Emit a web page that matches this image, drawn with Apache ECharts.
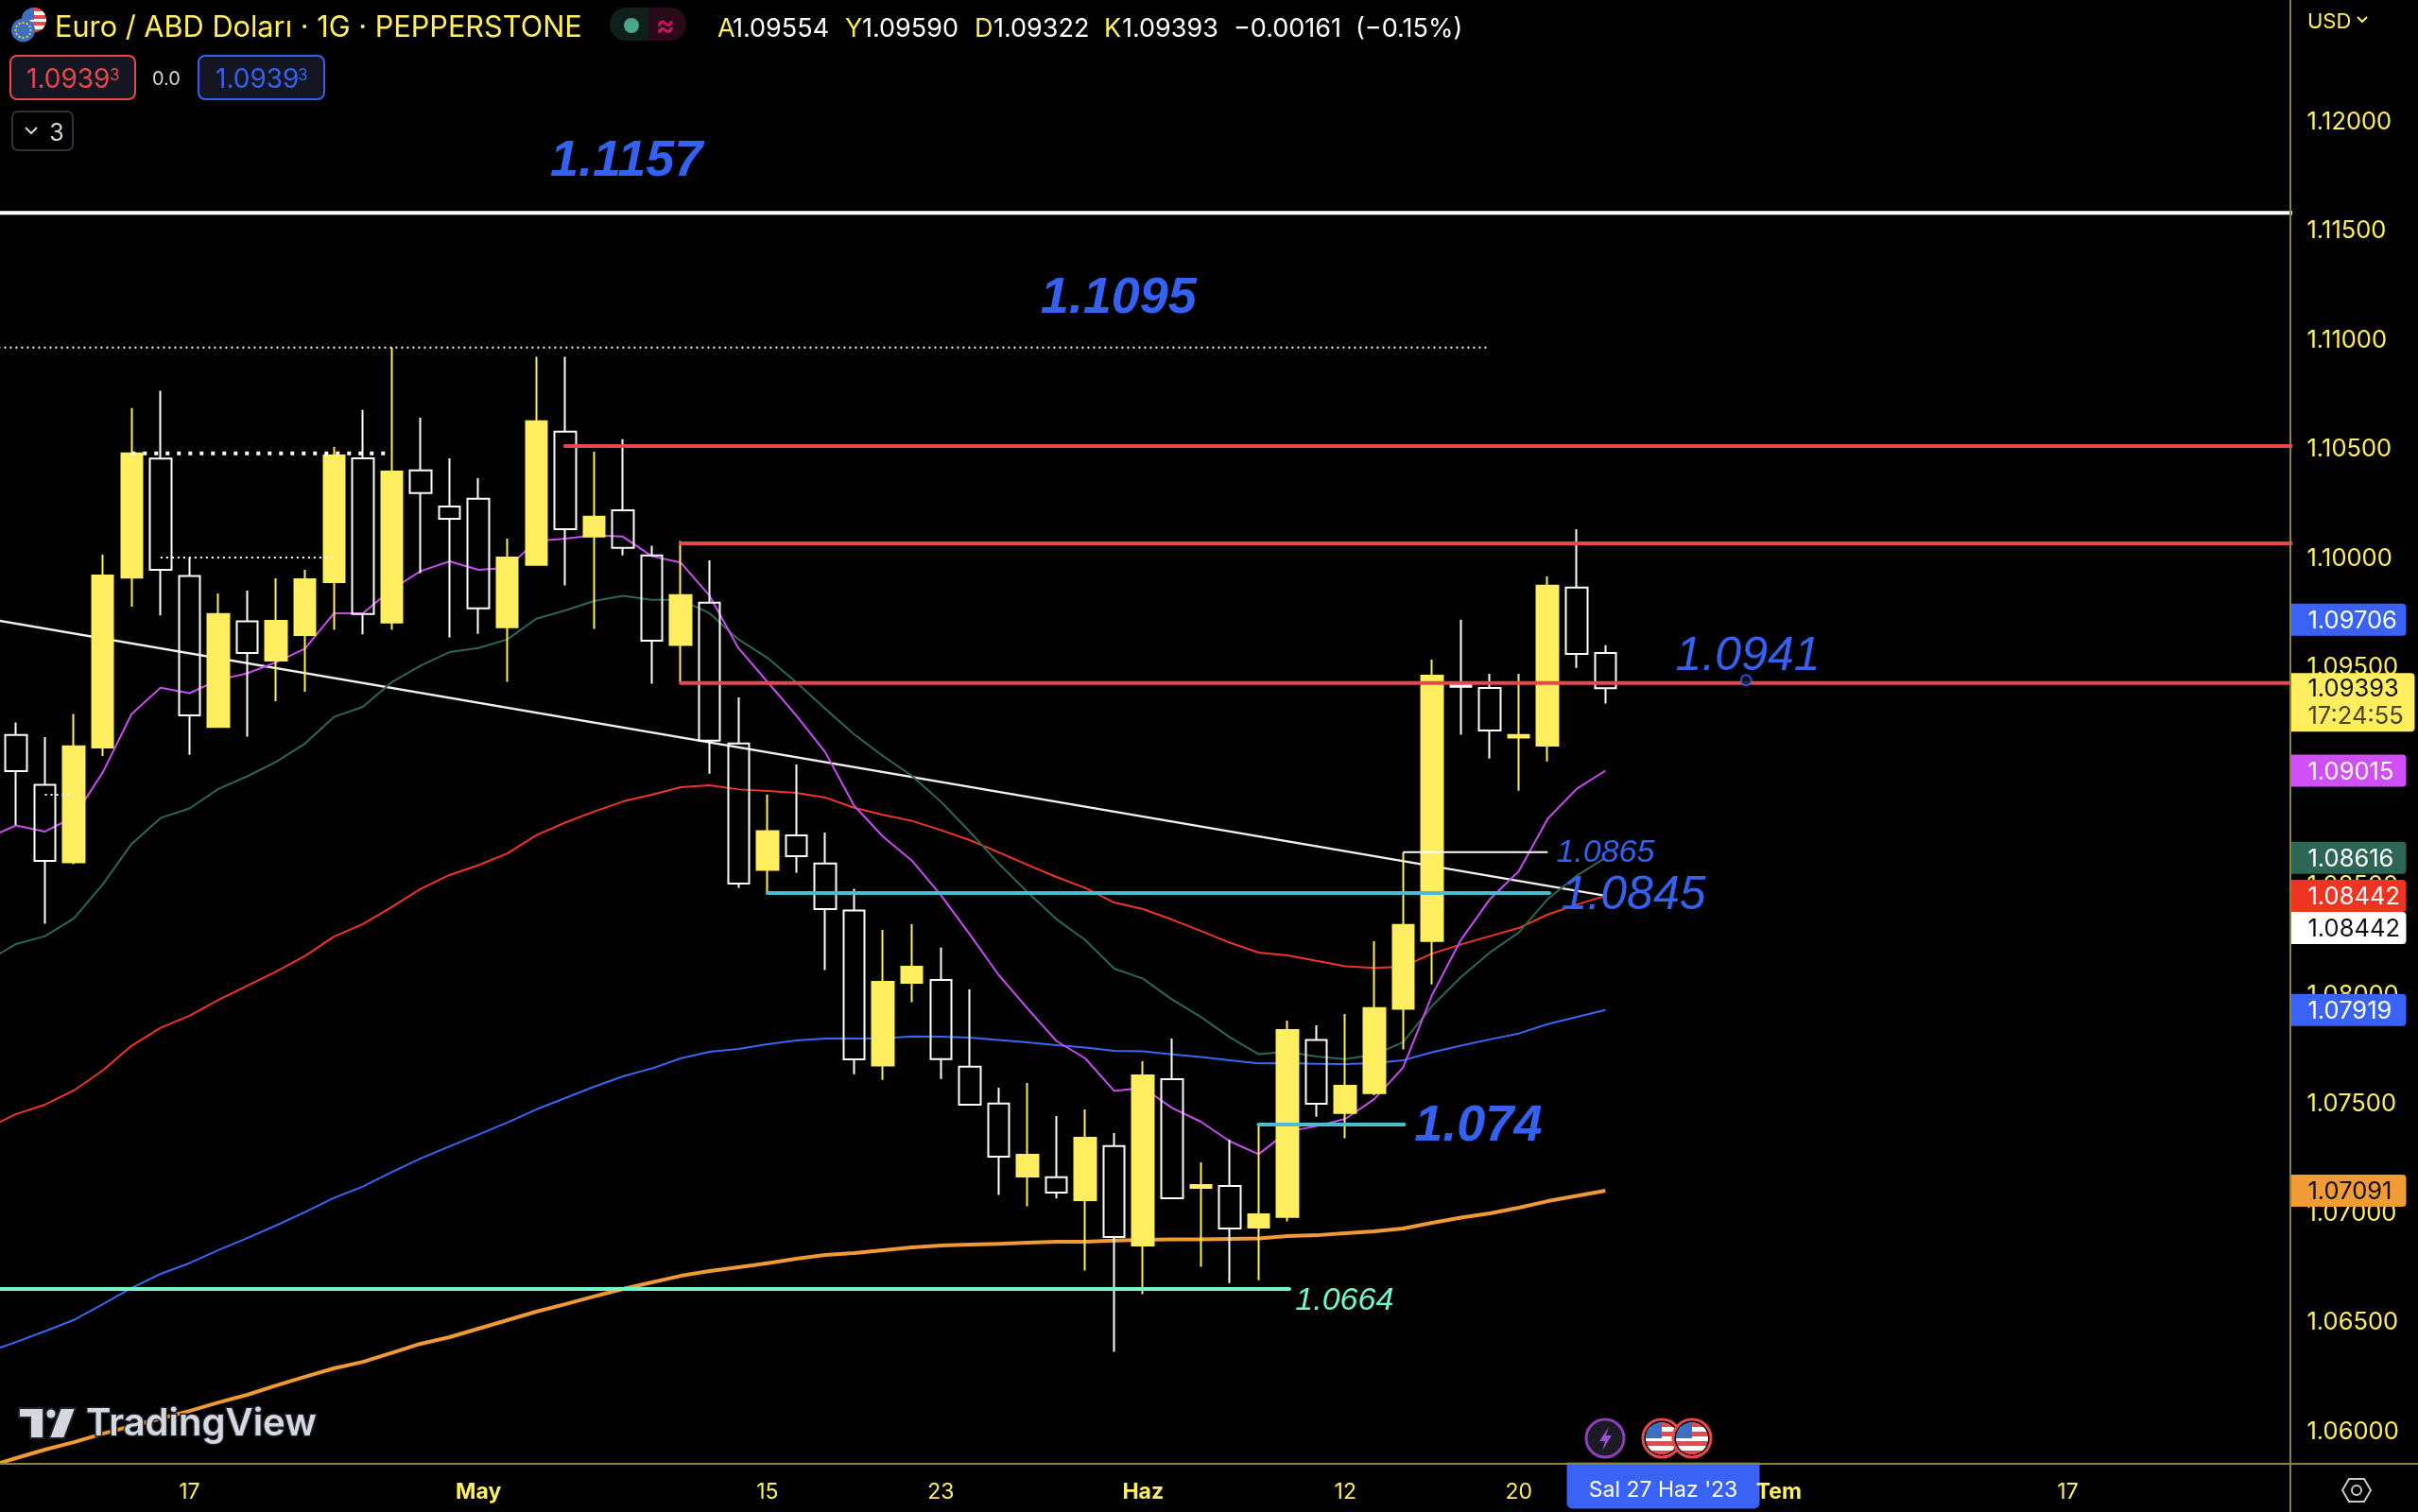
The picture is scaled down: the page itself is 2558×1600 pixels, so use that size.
<!DOCTYPE html>
<html><head><meta charset="utf-8">
<style>html,body{margin:0;padding:0;background:#000}#c{position:absolute;left:0;top:0;width:2558px;height:1600px}</style>
<script src="https://cdn.jsdelivr.net/npm/echarts@6/dist/echarts.min.js"></script>
</head><body><div id="c"></div>
<script>
// ---- values ----
const opens=[1.09178,1.08950,1.08595,1.09121,1.09899,1.10445,1.09907,1.09215,1.09699,1.09519,1.09636,1.09879,1.10446,1.09693,1.10390,1.10225,1.10261,1.09672,1.09958,1.10568,1.10087,1.10208,1.10001,1.09591,1.09784,1.09139,1.08561,1.08719,1.08590,1.08374,1.07665,1.08043,1.08056,1.07659,1.07490,1.07156,1.07153,1.07048,1.07295,1.06840,1.07602,1.07104,1.07113,1.06922,1.06971,1.07781,1.07447,1.07538,1.07924,1.08235,1.09407,1.09394,1.09166,1.09130,1.09854,1.09554];
const closes=[1.09013,1.08602,1.09126,1.09909,1.10468,1.09935,1.09268,1.09732,1.09554,1.09701,1.09892,1.10459,1.09732,1.10385,1.10287,1.10169,1.09758,1.09991,1.10615,1.10121,1.10178,1.10035,1.09610,1.09819,1.09152,1.08498,1.08738,1.08623,1.08381,1.07693,1.08048,1.08117,1.07694,1.07485,1.07247,1.07255,1.07082,1.07333,1.06879,1.07619,1.07056,1.07117,1.06918,1.06983,1.07827,1.07489,1.07571,1.07927,1.08308,1.09450,1.09399,1.09199,1.09178,1.09862,1.09550,1.09393];
const lows=[1.08766,1.08314,1.08586,1.09082,1.09766,1.09726,1.09087,1.09212,1.09171,1.09333,1.09377,1.09660,1.09639,1.09660,1.09920,1.09625,1.09642,1.09422,1.09953,1.09863,1.09664,1.10001,1.09413,1.09422,1.09001,1.08478,1.08455,1.08547,1.08102,1.07625,1.07599,1.07955,1.07603,1.07485,1.07071,1.07020,1.07055,1.06725,1.06353,1.06617,1.07056,1.06742,1.06668,1.06681,1.06950,1.07430,1.07331,1.07528,1.07738,1.08036,1.09179,1.09070,1.08923,1.09057,1.09486,1.09322];
const highs=[1.09236,1.09169,1.09275,1.10004,1.10676,1.10755,1.09991,1.09827,1.09840,1.09896,1.09935,1.10498,1.10667,1.10953,1.10632,1.10446,1.10355,1.10078,1.10911,1.10911,1.10476,1.10533,1.10045,1.10067,1.09978,1.09351,1.08906,1.09043,1.08732,1.08474,1.08286,1.08312,1.08204,1.08013,1.07563,1.07584,1.07433,1.07463,1.07355,1.07684,1.07788,1.07221,1.07325,1.07387,1.07870,1.07849,1.07900,1.08234,1.08641,1.09524,1.09706,1.09459,1.09459,1.09905,1.10121,1.09590];
// moving averages: first value is the bar just left of the visible window
const maPurple=[1.08706,1.08764,1.08736,1.08803,1.09007,1.09275,1.09395,1.09370,1.09430,1.09461,1.09511,1.09574,1.09736,1.09736,1.09845,1.09929,1.09974,1.09935,1.09944,1.10067,1.10078,1.10093,1.10087,1.09997,1.09968,1.09816,1.09576,1.09422,1.09268,1.09100,1.08855,1.08713,1.08603,1.08445,1.08266,1.08080,1.07926,1.07777,1.07697,1.07548,1.07563,1.07470,1.07407,1.07317,1.07258,1.07361,1.07387,1.07420,1.07510,1.07655,1.07987,1.08240,1.08426,1.08554,1.08794,1.08931,1.09015];
const maGreen=[1.08143,1.08221,1.08257,1.08338,1.08494,1.08680,1.08798,1.08842,1.08931,1.08989,1.09056,1.09139,1.09261,1.09307,1.09420,1.09496,1.09558,1.09577,1.09616,1.09711,1.09749,1.09792,1.09816,1.09797,1.09798,1.09736,1.09616,1.09532,1.09420,1.09299,1.09182,1.09082,1.08991,1.08873,1.08736,1.08590,1.08459,1.08335,1.08239,1.08108,1.08062,1.07967,1.07887,1.07794,1.07716,1.07727,1.07706,1.07694,1.07714,1.07771,1.07937,1.08069,1.08182,1.08273,1.08426,1.08533,1.08616];
const maRed=[1.07377,1.07442,1.07485,1.07550,1.07642,1.07755,1.07837,1.07892,1.07965,1.08030,1.08095,1.08166,1.08255,1.08312,1.08390,1.08473,1.08537,1.08582,1.08636,1.08719,1.08777,1.08827,1.08874,1.08905,1.08939,1.08948,1.08929,1.08922,1.08913,1.08892,1.08845,1.08813,1.08785,1.08743,1.08697,1.08641,1.08584,1.08528,1.08478,1.08411,1.08381,1.08333,1.08281,1.08227,1.08182,1.08169,1.08144,1.08119,1.08111,1.08117,1.08177,1.08219,1.08257,1.08294,1.08356,1.08401,1.08442];
const maBlue=[1.06351,1.06398,1.06447,1.06499,1.06571,1.06646,1.06710,1.06759,1.06819,1.06874,1.06932,1.06993,1.07058,1.07110,1.07176,1.07239,1.07294,1.07348,1.07403,1.07463,1.07515,1.07567,1.07615,1.07651,1.07697,1.07727,1.07740,1.07762,1.07779,1.07788,1.07788,1.07789,1.07798,1.07797,1.07792,1.07781,1.07771,1.07758,1.07747,1.07732,1.07729,1.07715,1.07703,1.07688,1.07674,1.07675,1.07672,1.07671,1.07675,1.07688,1.07725,1.07755,1.07784,1.07811,1.07854,1.07886,1.07919];
const maOrange=[1.05827,1.05866,1.05905,1.05939,1.05978,1.06013,1.06048,1.06082,1.06121,1.06156,1.06199,1.06239,1.06277,1.06307,1.06348,1.06390,1.06420,1.06459,1.06498,1.06537,1.06571,1.06607,1.06641,1.06671,1.06701,1.06723,1.06740,1.06759,1.06779,1.06797,1.06805,1.06818,1.06831,1.06840,1.06844,1.06848,1.06853,1.06857,1.06857,1.06863,1.06866,1.06868,1.06868,1.06870,1.06872,1.06883,1.06887,1.06896,1.06905,1.06918,1.06944,1.06968,1.06987,1.07013,1.07043,1.07067,1.07091];
// time axis (bar index -> label)
const dateTickBars=[6,16,26,32,39,46,52,57,61,71];
const dateTickLabels=['17','May','15','23','Haz','12','20',"Sal 27 Haz '23",'Tem','17'];
// price axis
const priceTicks=[1.06,1.065,1.07,1.075,1.08,1.085,1.09,1.095,1.10,1.105,1.11,1.115,1.12];
// drawn levels: [fromBar,toBar,price]
const trendLine=[[-1,1.09711],[55,1.08442]];
const lvlWhiteTop=[-1,79,1.1157];
const lvlDotTop=[-1,51,1.10953];
const lvlDotMid=[4,12.85,1.10468];
const lvlDotLow=[5,11,1.09991];
const lvlDotTiny=[1,2,1.08905];
const lvlRed1=[19,79,1.10502];
const lvlRed2=[23,79,1.10056];
const lvlRed3=[23,79,1.09416];
const lvlCyan1=[26,53.06,1.08455];
const lvlCyan2=[43,48.03,1.07394];
const lvlMint=[-1,44.06,1.06641];
const lvlWhiteThin=[48,53,1.08642];
// price tags on the axis
const tagPrices=[1.09706,1.09015,1.08616,1.08442,1.07919,1.07091];
const tagColours=['#3A63F5','#D04FF6','#2E6656','#EE3524','#3A63F5','#F29C38'];
const tagInk=['#fff','#fff','#fff','#fff','#fff','#111'];
const whiteTagPrice=1.08442;
const lastPrice=1.09393, lastCountdown='17:24:55';
// text notes on the chart: [text,bar,price]
const notesBold=[['1.1157',21.12,1.11820],['1.1095',38.15,1.11191],['1.074',50.6,1.07398]];
const notesLarge=[['1.0941',59.93,1.09550],['1.0845',55.97,1.08455]];
const notesSmall=[['1.0865',55.0,1.08649]];
const notesMint=[['1.0664',45.97,1.06595]];
const anchorPoint=[59.87,1.09429];

// ---- scale set-up ----
const priceMin=1.0584, priceMax=1.12545, barMin=-0.556, barMax=78.687;
const bars=opens.map((_,i)=>i);
const candleData=bars.map(i=>[i,opens[i],closes[i],lows[i],highs[i]]);
const withIdx=a=>a.map((v,i)=>[i-1,v]);
const YEL='#FFEE5F', BLUE='#3561F0', MINT='#72F9C9', RED='#E5484D', CYAN='#4FB9D2';
const UI="Inter, 'Liberation Sans', sans-serif", NOTE="'Liberation Sans', sans-serif";

const ma=(name,data,color,w)=>({type:'line',name,data:withIdx(data),showSymbol:false,symbol:'none',z:1,silent:true,lineStyle:{color,width:w,join:'round'}});
const seg=(lvl,color,w,extra)=>({type:'line',data:[[lvl[0],lvl[2]],[lvl[1],lvl[2]]],showSymbol:false,symbol:'none',z:3,silent:true,lineStyle:Object.assign({color,width:w},extra||{})});
const notes=(list,size,bold,color)=>({type:'custom',coordinateSystem:'cartesian2d',z:5,silent:true,clip:false,data:list.map(n=>[n[1],n[2],n[0]]),encode:{x:0,y:1},
  renderItem:(p,api)=>{const c=api.coord([api.value(0),api.value(1)]);const t=list[p.dataIndex][0];
    return {type:'text',style:{x:c[0],y:c[1]+size*0.06,text:t,fill:color,align:'center',verticalAlign:'middle',font:`italic ${bold?'bold ':''}${size}px ${NOTE}`}};}});

// axis price tags
const tagSeries={type:'custom',coordinateSystem:'cartesian2d',z:20,silent:true,clip:false,
  data:tagPrices.map(v=>[barMax,v]),encode:{x:0,y:1},
  renderItem:(p,api)=>{const c=api.coord([api.value(0),api.value(1)]);const i=p.dataIndex;
    return {type:'group',children:[
      {type:'rect',shape:{x:c[0],y:c[1]-17,width:123,height:34,r:[0,4,4,0]},style:{fill:tagColours[i]}},
      {type:'text',style:{x:c[0]+19,y:c[1]+1.5,text:tagPrices[i].toFixed(5),fill:tagInk[i],verticalAlign:'middle',font:`25.5px ${UI}`}}]};}};
const whiteTag={type:'custom',coordinateSystem:'cartesian2d',z:21,silent:true,clip:false,data:[[barMax,whiteTagPrice]],encode:{x:0,y:1},
  renderItem:(p,api)=>{const c=api.coord([api.value(0),api.value(1)]);const y=c[1]+34;
    return {type:'group',children:[
      {type:'rect',shape:{x:c[0],y:y-17,width:123,height:34,r:[0,4,4,0]},style:{fill:'#fff'}},
      {type:'text',style:{x:c[0]+19,y:y+1.5,text:whiteTagPrice.toFixed(5),fill:'#111',verticalAlign:'middle',font:`25.5px ${UI}`}}]};}};
const lastTag={type:'custom',coordinateSystem:'cartesian2d',z:22,silent:true,clip:false,data:[[barMax,lastPrice]],encode:{x:0,y:1},
  renderItem:(p,api)=>{const c=api.coord([api.value(0),api.value(1)]);
    return {type:'group',children:[
      {type:'rect',shape:{x:c[0],y:c[1]-16,width:132,height:62,r:[0,4,4,0]},style:{fill:YEL}},
      {type:'text',style:{x:c[0]+19,y:c[1]+1.5,text:lastPrice.toFixed(5),fill:'#111',verticalAlign:'middle',font:`25.5px ${UI}`}},
      {type:'text',style:{x:c[0]+19,y:c[1]+30.5,text:lastCountdown,fill:'#4a4420',verticalAlign:'middle',font:`25.5px ${UI}`}}]};}};

// ---- page chrome ----
const G=[];
const txt=(x,y,text,fill,font,align)=>G.push({type:'text',z:50,silent:true,style:{x,y,text,fill,font,align:align||'left',verticalAlign:'middle'}});
const rect=(x,y,w,h,fill,r,stroke,lw)=>G.push({type:'rect',z:49,silent:true,shape:{x,y,width:w,height:h,r:r||0},style:{fill,stroke:stroke||null,lineWidth:lw||0}});
const circ=(cx,cy,r,fill,stroke,lw)=>G.push({type:'circle',z:49,silent:true,shape:{cx,cy,r},style:{fill,stroke:stroke||null,lineWidth:lw||0}});
const ln=(x1,y1,x2,y2,stroke,lw)=>G.push({type:'line',z:49,silent:true,shape:{x1,y1,x2,y2},style:{stroke,lineWidth:lw}});
const usFlag=(cx,cy,r)=>{for(let d=-r;d<r;d+=1){const m=d+0.5;const half=Math.sqrt(r*r-m*m);const s=Math.floor((d+r)/(2*r)*7)%2;
    rect(cx-half,cy+d,2*half,1.2,s?'#fff':'#E5484D');if(d<0)rect(cx-half,cy+d,half,1.2,'#3F6FC4');}};
// axis lines carried to the page edges
ln(2423,0,2423,1600,'#8E8236',2);ln(0,1549,2558,1549,'#8E8236',2);
// header
usFlag(36,21,13);
circ(24.5,32,12.5,'#3F6FBF');
for(let a=0;a<12;a++)circ(24.5+8*Math.cos(a*Math.PI/6),32+8*Math.sin(a*Math.PI/6),1.1,'#FFDD33');
txt(58,30,'Euro / ABD Doları · 1G · PEPPERSTONE',YEL,`30.7px ${UI}`);
rect(645,8,41,35,'#0F1F1B',[17,0,0,17]);rect(686,8,40,35,'#2A0A18',[0,17,17,0]);
circ(668,27,8,'#4CA68C');txt(704,28,'≈','#C2185B',`bold 30px ${UI}`,'center');
const ohlc=[[759,'A',YEL],[775,'1.09554','#fff'],[894,'Y',YEL],[912,'1.09590','#fff'],[1031,'D',YEL],[1051,'1.09322','#fff'],[1168,'K',YEL],[1187,'1.09393','#fff'],[1305,'−0.00161','#fff'],[1434,'(−0.15%)','#fff']];
ohlc.forEach(o=>txt(o[0],31,o[1],o[2],`27px ${UI}`));
// price boxes
rect(11,59,132,46,'#141722',7,RED,2);txt(28,85,'1.0939',RED,`28px ${UI}`);txt(116,80,'3',RED,`17px ${UI}`);
txt(176,84,'0.0','#d1d4dc',`20px ${UI}`,'center');
rect(210,59,133,46,'#141722',7,BLUE,2);txt(228,85,'1.0939',BLUE,`28px ${UI}`);txt(315,80,'3',BLUE,`17px ${UI}`);
rect(13,118,64,41,'#000',6,'#2f323a',2);
G.push({type:'polyline',z:50,silent:true,shape:{points:[[27,135],[33,141],[39,135]]},style:{stroke:'#d1d4dc',lineWidth:2,fill:null}});
txt(60,141,'3','#d1d4dc',`25px ${UI}`,'center');
// currency
txt(2441,23,'USD',YEL,`22px ${UI}`);
G.push({type:'polyline',z:50,silent:true,shape:{points:[[2494,18],[2499,23],[2504,18]]},style:{stroke:YEL,lineWidth:2,fill:null}});
// settings icon
G.push({type:'polygon',z:50,silent:true,shape:{points:[[2478,1577],[2485,1565],[2501,1565],[2508,1577],[2501,1589],[2485,1589]]},style:{fill:null,stroke:'#c8c8cc',lineWidth:2}});
circ(2493,1577,5,null,'#c8c8cc',2);
// watermark
const wm='#D6D8DE';
G.push({type:'polygon',z:50,silent:true,shape:{points:[[20,1490],[46,1490],[46,1522],[32,1522],[32,1500],[20,1500]]},style:{fill:wm,stroke:'#1e222d',lineWidth:2}});
circ(54,1496,5.5,wm,'#1e222d',2);
G.push({type:'polygon',z:50,silent:true,shape:{points:[[64,1490],[80,1490],[68,1522],[52,1522]]},style:{fill:wm,stroke:'#1e222d',lineWidth:2}});
G.push({type:'text',z:50,silent:true,style:{x:91,y:1507,text:'TradingView',fill:wm,stroke:'#1e222d',lineWidth:3,font:`600 40px ${UI}`,verticalAlign:'middle'}});
// event icons
circ(1698,1522,20,'#1B1B26','#8E3FB8',3);
G.push({type:'polygon',z:51,silent:true,shape:{points:[[1702,1510],[1692,1525],[1698,1525],[1695,1535],[1705,1519],[1699,1519]]},style:{fill:'#9C4FD0'}});
circ(1758,1522,20,'#000',RED,3);usFlag(1758,1522,17);
circ(1790,1522,20,'#000',RED,3);usFlag(1790,1522,17);

// ---- chart ----
const option={
  backgroundColor:'#000',animation:false,
  grid:{left:0,top:0,right:135.5,bottom:51,containLabel:false,outerBoundsMode:'none'},
  tooltip:{show:false},legend:{show:false},
  xAxis:{type:'value',min:barMin,max:barMax,splitLine:{show:false},axisTick:{show:false},
    axisLine:{show:false},
    axisLabel:{customValues:dateTickBars,margin:4,hideOverlap:false,showMinLabel:true,showMaxLabel:true,
      formatter:v=>{const i=dateTickBars.indexOf(v);const s=dateTickLabels[i];
        if(v===57)return '{hl|'+s+'}';
        if(/[A-Za-z]/.test(s))return '{b|'+s+'}';
        return '{n|'+s+'}';},
      rich:{n:{color:YEL,fontFamily:UI,fontSize:23,height:53,lineHeight:53},
        b:{color:YEL,fontFamily:UI,fontSize:23,fontWeight:'bold',height:53,lineHeight:53},
        hl:{color:'#fff',fontFamily:UI,fontSize:23,backgroundColor:'#3A63F5',width:204,align:'center',height:38,lineHeight:38,padding:[11,0,0,0],borderRadius:[0,0,6,6]}}}},
  yAxis:{type:'value',position:'right',min:priceMin,max:priceMax,scale:true,splitLine:{show:false},axisTick:{show:false},axisLine:{show:false},
    axisLabel:{customValues:priceTicks,margin:18,color:YEL,fontFamily:UI,fontSize:25.5,align:'left',verticalAlign:'top',lineHeight:6,showMinLabel:true,showMaxLabel:true,formatter:v=>v.toFixed(5)}},
  graphic:{elements:G},
  series:[
    {type:'line',name:'Trend',data:trendLine,showSymbol:false,symbol:'none',z:1,silent:true,lineStyle:{color:'#F0F0F0',width:2.5}},
    ma('MA1',maOrange,'#F09A35',4),
    ma('MA2',maBlue,'#3A66F5',2),
    ma('MA3',maRed,'#F0352A',2),
    ma('MA4',maGreen,'#2E6656',2),
    ma('MA5',maPurple,'#C84DF0',2),
    {type:'candlestick',data:candleData,encode:{x:0,y:[1,2,3,4]},barWidth:23,z:2,silent:true,clip:false,
      itemStyle:{color:YEL,color0:'transparent',borderColor:YEL,borderColor0:'#fff',borderWidth:2}},
    seg(lvlWhiteTop,'#fff',4),
    seg(lvlDotTop,'#fff',2,{type:[2,4]}),
    seg(lvlDotMid,'#fff',4,{type:[4,8]}),
    seg(lvlDotLow,'#fff',2,{type:[2,4]}),
    seg(lvlDotTiny,'#fff',2,{type:[2,4]}),
    seg(lvlRed1,RED,4,{cap:'round'}),
    seg(lvlRed2,RED,4,{cap:'round'}),
    seg(lvlRed3,RED,4,{cap:'round'}),
    seg(lvlCyan1,CYAN,4,{cap:'round'}),
    seg(lvlCyan2,CYAN,4,{cap:'round'}),
    seg(lvlMint,MINT,4,{cap:'round'}),
    seg(lvlWhiteThin,'#fff',2),
    {type:'scatter',data:[anchorPoint],symbol:'circle',symbolSize:11,z:4,silent:true,itemStyle:{color:'#0A1430',borderColor:BLUE,borderWidth:2}},
    notes(notesBold,54,true,BLUE),
    notes(notesLarge,50,false,BLUE),
    notes(notesSmall,34,false,BLUE),
    notes(notesMint,34,false,MINT),
    tagSeries,whiteTag,lastTag
  ]
};
echarts.init(document.getElementById('c'),null,{renderer:'canvas',width:2558,height:1600}).setOption(option);
</script></body></html>
